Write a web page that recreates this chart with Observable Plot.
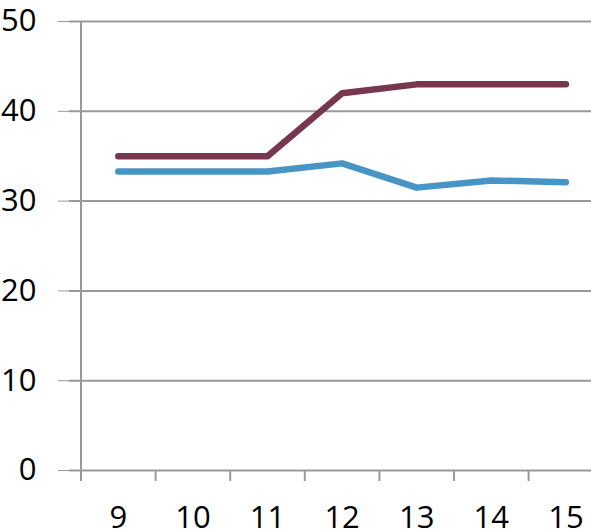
<!DOCTYPE html>
<html>
<head>
<meta charset="utf-8">
<script src="https://cdn.jsdelivr.net/npm/d3@7"></script>
<script src="https://cdn.jsdelivr.net/npm/@observablehq/plot@0.6"></script>
<style>
  html, body { margin: 0; padding: 0; background: #fff; }
</style>
</head>
<body>
<div id="chart"></div>
<script>
const categories = [9, 10, 11, 12, 13, 14, 15];
const seriesMaroon = [35, 35, 35, 42, 43, 43, 43];
const seriesBlue = [33.3, 33.3, 33.3, 34.2, 31.5, 32.3, 32.1];
const yTicks = [0, 10, 20, 30, 40, 50];
const bandEdges = [8.5, 9.5, 10.5, 11.5, 12.5, 13.5, 14.5];

const data = [
  ...categories.map((c, i) => ({cat: c, value: seriesBlue[i], series: "blue"})),
  ...categories.map((c, i) => ({cat: c, value: seriesMaroon[i], series: "maroon"}))
];

const chart = Plot.plot({
  width: 591,
  height: 532,
  marginLeft: 69,
  marginRight: 0,
  marginTop: 21,
  marginBottom: 62,
  style: {fontFamily: "'Open Sans', sans-serif", fontSize: "31px", color: "#000", background: "#fff"},
  x: {type: "linear", domain: [8.5, 15.5], range: [80.5, 602.7]},
  y: {domain: [0, 50]},
  marks: [
    Plot.ruleY(yTicks, {stroke: "#999", strokeWidth: 2}),
    Plot.ruleX([8.5], {y1: 0, y2: 50, stroke: "#999", strokeWidth: 2}),
    Plot.axisY({ticks: yTicks, tickSize: 11, tickPadding: 22, stroke: "#999", fill: "#000", fontSize: 31, label: null, tickFormat: d => String(d)}),
    Plot.axisX({ticks: bandEdges, tickSize: 11, stroke: "#999", strokeWidth: 2, tickFormat: () => "", label: null}),
    Plot.axisX({ticks: categories, tickSize: 0, tickPadding: 35, fill: "#000", fontSize: 31, label: null, tickFormat: d => String(d)}),
    Plot.line(data, {
      x: "cat", y: "value", z: "series",
      stroke: d => d.series === "blue" ? "#4795c5" : "#76374f",
      strokeWidth: 6.5, strokeLinecap: "round", strokeLinejoin: "round"
    })
  ]
});
document.getElementById("chart").appendChild(chart);
</script>
</body>
</html>
